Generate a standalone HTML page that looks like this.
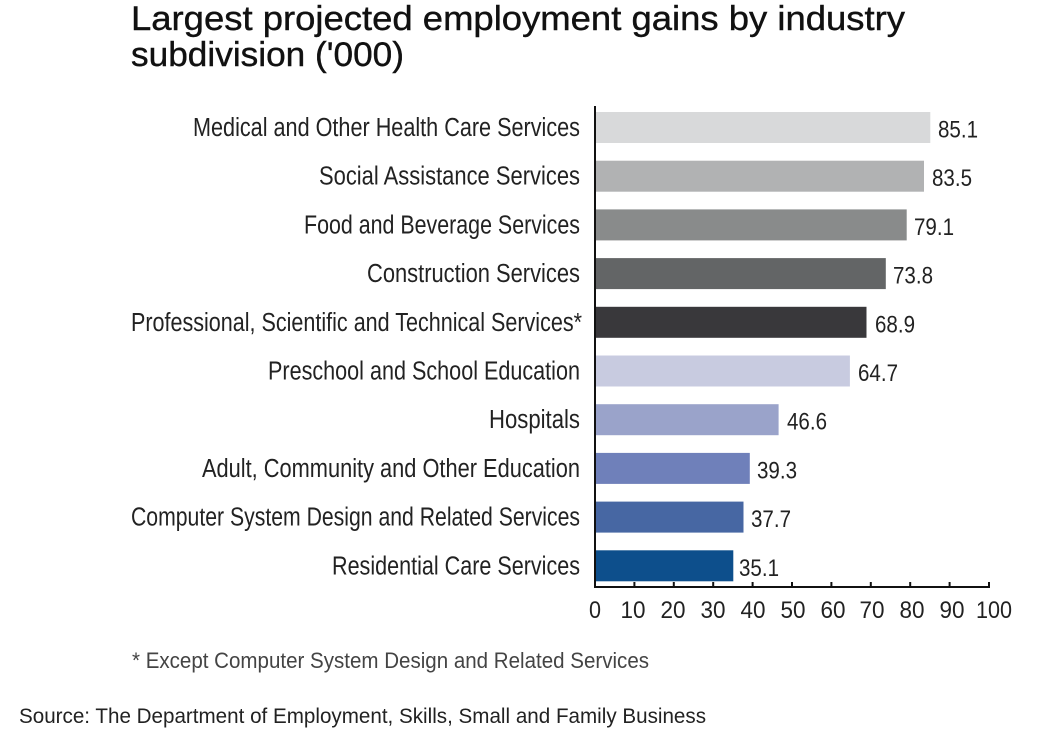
<!DOCTYPE html>
<html>
<head>
<meta charset="utf-8">
<style>
html,body{margin:0;padding:0;background:#fff;}
body{width:1044px;height:733px;overflow:hidden;}
svg{display:block;}
text{font-family:"Liberation Sans",Arial,sans-serif;}
</style>
</head>
<body>
<svg width="1044" height="733" viewBox="0 0 1044 733" xmlns="http://www.w3.org/2000/svg">
<rect width="1044" height="733" fill="#ffffff"/>
<!-- Title -->
<text x="131" y="30" font-size="34.5" fill="#111" stroke="#111" stroke-width="0.4" textLength="774" lengthAdjust="spacingAndGlyphs">Largest projected employment gains by industry</text>
<text x="131" y="66" font-size="34.5" fill="#111" stroke="#111" stroke-width="0.4" textLength="273" lengthAdjust="spacingAndGlyphs">subdivision ('000)</text>

<!-- Bars -->
<g>
<rect x="596" y="112" width="334.3" height="31" fill="#d8d9da"/>
<rect x="596" y="160.7" width="328" height="31" fill="#b1b2b3"/>
<rect x="596" y="209.4" width="310.7" height="31" fill="#898b8b"/>
<rect x="596" y="258.1" width="289.8" height="31" fill="#636566"/>
<rect x="596" y="306.8" width="270.5" height="31" fill="#39383b"/>
<rect x="596" y="355.5" width="253.9" height="31" fill="#c8cbe0"/>
<rect x="596" y="404.2" width="182.6" height="31" fill="#9aa3ca"/>
<rect x="596" y="452.9" width="153.8" height="31" fill="#6f80ba"/>
<rect x="596" y="501.6" width="147.5" height="31" fill="#4767a3"/>
<rect x="596" y="550.3" width="137.3" height="31" fill="#0d4f8c"/>
</g>

<!-- Category labels -->
<g font-size="25.5" fill="#222" text-anchor="end">
<text x="580" y="136" textLength="387" lengthAdjust="spacingAndGlyphs">Medical and Other Health Care Services</text>
<text x="580" y="184.7" textLength="261" lengthAdjust="spacingAndGlyphs">Social Assistance Services</text>
<text x="580" y="233.4" textLength="276" lengthAdjust="spacingAndGlyphs">Food and Beverage Services</text>
<text x="580" y="282.1" textLength="213" lengthAdjust="spacingAndGlyphs">Construction Services</text>
<text x="582" y="330.8" textLength="451" lengthAdjust="spacingAndGlyphs">Professional, Scientific and Technical Services*</text>
<text x="580" y="379.5" textLength="312" lengthAdjust="spacingAndGlyphs">Preschool and School Education</text>
<text x="580" y="428.2" textLength="91" lengthAdjust="spacingAndGlyphs">Hospitals</text>
<text x="580" y="476.9" textLength="378" lengthAdjust="spacingAndGlyphs">Adult, Community and Other Education</text>
<text x="580" y="525.6" textLength="449" lengthAdjust="spacingAndGlyphs">Computer System Design and Related Services</text>
<text x="580" y="574.3" textLength="248" lengthAdjust="spacingAndGlyphs">Residential Care Services</text>
</g>

<!-- Value labels -->
<g font-size="24.5" fill="#222">
<text x="938" y="137.5" textLength="40" lengthAdjust="spacingAndGlyphs">85.1</text>
<text x="932" y="186.2" textLength="40" lengthAdjust="spacingAndGlyphs">83.5</text>
<text x="914" y="234.9" textLength="40" lengthAdjust="spacingAndGlyphs">79.1</text>
<text x="893" y="283.6" textLength="40" lengthAdjust="spacingAndGlyphs">73.8</text>
<text x="875" y="332.3" textLength="40" lengthAdjust="spacingAndGlyphs">68.9</text>
<text x="858" y="381" textLength="40" lengthAdjust="spacingAndGlyphs">64.7</text>
<text x="787" y="429.7" textLength="40" lengthAdjust="spacingAndGlyphs">46.6</text>
<text x="757" y="478.4" textLength="40" lengthAdjust="spacingAndGlyphs">39.3</text>
<text x="751" y="527.1" textLength="40" lengthAdjust="spacingAndGlyphs">37.7</text>
<text x="739" y="575.8" textLength="40" lengthAdjust="spacingAndGlyphs">35.1</text>
</g>

<!-- Axes -->
<line x1="595" y1="106" x2="595" y2="588" stroke="#111" stroke-width="2"/>
<line x1="594" y1="587" x2="990" y2="587" stroke="#111" stroke-width="2"/>
<g stroke="#111" stroke-width="2">
<line x1="634.4" y1="582" x2="634.4" y2="587"/>
<line x1="673.8" y1="582" x2="673.8" y2="587"/>
<line x1="713.2" y1="582" x2="713.2" y2="587"/>
<line x1="752.6" y1="582" x2="752.6" y2="587"/>
<line x1="792" y1="582" x2="792" y2="587"/>
<line x1="831.4" y1="582" x2="831.4" y2="587"/>
<line x1="870.8" y1="582" x2="870.8" y2="587"/>
<line x1="910.2" y1="582" x2="910.2" y2="587"/>
<line x1="949.6" y1="582" x2="949.6" y2="587"/>
<line x1="989" y1="582" x2="989" y2="587"/>
</g>

<!-- Tick labels -->
<g font-size="24" fill="#222" text-anchor="middle">
<text x="595" y="618" textLength="12" lengthAdjust="spacingAndGlyphs">0</text>
<text x="633" y="618" textLength="25" lengthAdjust="spacingAndGlyphs">10</text>
<text x="673" y="618" textLength="25" lengthAdjust="spacingAndGlyphs">20</text>
<text x="713" y="618" textLength="25" lengthAdjust="spacingAndGlyphs">30</text>
<text x="753" y="618" textLength="25" lengthAdjust="spacingAndGlyphs">40</text>
<text x="793" y="618" textLength="25" lengthAdjust="spacingAndGlyphs">50</text>
<text x="833" y="618" textLength="25" lengthAdjust="spacingAndGlyphs">60</text>
<text x="872" y="618" textLength="25" lengthAdjust="spacingAndGlyphs">70</text>
<text x="912" y="618" textLength="25" lengthAdjust="spacingAndGlyphs">80</text>
<text x="952" y="618" textLength="25" lengthAdjust="spacingAndGlyphs">90</text>
<text x="994" y="618" textLength="36" lengthAdjust="spacingAndGlyphs">100</text>
</g>

<!-- Footnote -->
<text x="132" y="668" font-size="22" fill="#444" textLength="517" lengthAdjust="spacingAndGlyphs">* Except Computer System Design and Related Services</text>

<!-- Source -->
<text x="19" y="723" font-size="21" fill="#222" textLength="687" lengthAdjust="spacingAndGlyphs">Source: The Department of Employment, Skills, Small and Family Business</text>
</svg>
</body>
</html>
